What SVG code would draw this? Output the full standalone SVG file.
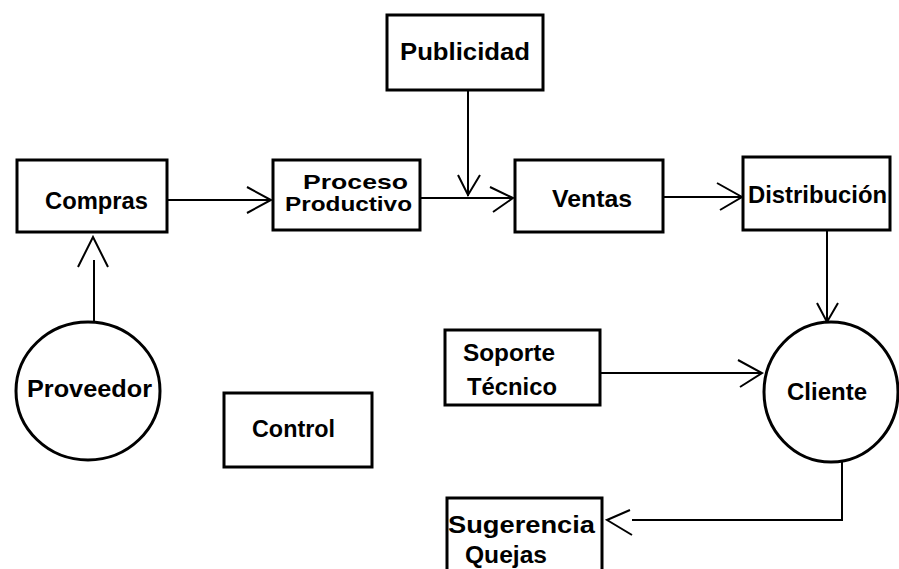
<svg xmlns="http://www.w3.org/2000/svg" width="899" height="569" viewBox="0 0 899 569">
<style>
.box{fill:#fff;stroke:#000;stroke-width:3}
.t{font-family:"Liberation Sans",Arial,sans-serif;font-weight:bold;font-size:24px;fill:#000}
.s{font-size:21px}
.c{fill:none;stroke:#000;stroke-width:2}
</style>
<rect width="899" height="569" fill="#fff"/>
<g id="connectors">
<path class="c" d="M167,200 H271 M247,187 L271,200 L247,213"/>
<path class="c" d="M468,90 V196 M458,175 L468,195 L480,175"/>
<path class="c" d="M420,198 H513 M490,187 L513,198 L493,212"/>
<path class="c" d="M663,197 H742 M717,183 L742,197 L720,210"/>
<path class="c" d="M827,230 V322 M817,303 L827,322 L838,303"/>
<path class="c" d="M600,373 H762 M738,360 L762,373 L740,387"/>
<path class="c" d="M842,462 V520 H632 M630,510 L607,520 L632,535"/>
<path class="c" d="M94,322 V260 M78,267 L93,237 L108,267"/>
</g>
<g id="compras"><rect class="box" x="17" y="160" width="150" height="72"/><text class="t" x="45" y="209" textLength="103" lengthAdjust="spacingAndGlyphs">Compras</text></g>
<g id="proceso"><rect class="box" x="273" y="160" width="147" height="70"/><text class="t s" x="303" y="189" textLength="105" lengthAdjust="spacingAndGlyphs">Proceso</text><text class="t s" x="285" y="211" textLength="127" lengthAdjust="spacingAndGlyphs">Productivo</text></g>
<g id="publicidad"><rect class="box" x="387" y="15" width="156" height="75"/><text class="t" x="400" y="60" textLength="130" lengthAdjust="spacingAndGlyphs">Publicidad</text></g>
<g id="ventas"><rect class="box" x="515" y="160" width="148" height="72"/><text class="t" x="552" y="207" textLength="80" lengthAdjust="spacingAndGlyphs">Ventas</text></g>
<g id="distribucion"><rect class="box" x="743" y="157" width="147" height="73"/><text class="t" x="748" y="203" textLength="139" lengthAdjust="spacingAndGlyphs">Distribución</text></g>
<g id="proveedor"><ellipse class="box" cx="88" cy="391" rx="72" ry="69"/><text class="t" x="27" y="397" textLength="125" lengthAdjust="spacingAndGlyphs">Proveedor</text></g>
<g id="control"><rect class="box" x="224" y="393" width="148" height="74"/><text class="t" x="252" y="437" textLength="83" lengthAdjust="spacingAndGlyphs">Control</text></g>
<g id="soporte"><rect class="box" x="445" y="330" width="155" height="75"/><text class="t" x="463" y="361" textLength="92" lengthAdjust="spacingAndGlyphs">Soporte</text><text class="t" x="467" y="395" textLength="90" lengthAdjust="spacingAndGlyphs">Técnico</text></g>
<g id="cliente"><ellipse class="box" cx="831" cy="392" rx="67" ry="70"/><text class="t" x="787" y="400" textLength="80" lengthAdjust="spacingAndGlyphs">Cliente</text></g>
<g id="sugerencia"><rect class="box" x="447" y="498" width="155" height="80"/><text class="t" x="448" y="533" textLength="147" lengthAdjust="spacingAndGlyphs">Sugerencia</text><text class="t" x="465" y="563" textLength="82" lengthAdjust="spacingAndGlyphs">Quejas</text></g>
</svg>
